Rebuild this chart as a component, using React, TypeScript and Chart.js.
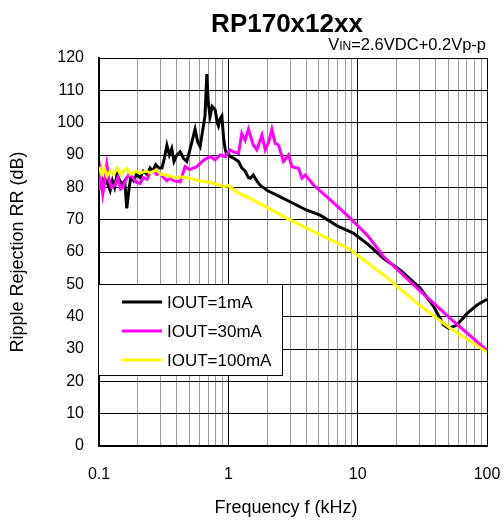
import { useEffect, useRef } from "react";
import { Chart, registerables } from "chart.js";
Chart.register(...registerables);

const FONT = "'Liberation Sans', Arial, sans-serif";

const titleText = "RP170x12xx";
const xAxisTitle = "Frequency f (kHz)";
const yAxisTitle = "Ripple Rejection RR (dB)";
const seriesLabels = ["IOUT=1mA", "IOUT=30mA", "IOUT=100mA"];
const seriesColors = ["#000000", "#ff00ff", "#ffff00"];

const xMajorLabels = [0.1, 1, 10, 100];
const xGridValues = [
  0.1, 0.2, 0.3, 0.4, 0.5, 0.6, 0.7, 0.8, 0.9,
  1, 2, 3, 4, 5, 6, 7, 8, 9,
  10, 20, 30, 40, 50, 60, 70, 80, 90, 100,
];

const freq1mA = [
  0.1, 0.104, 0.108, 0.112, 0.117, 0.122, 0.127, 0.132, 0.138, 0.145, 0.152, 0.158,
  0.164, 0.17, 0.176, 0.185, 0.195, 0.208, 0.22, 0.235, 0.248, 0.26, 0.275, 0.29,
  0.307, 0.32, 0.335, 0.35, 0.365, 0.38, 0.4, 0.424, 0.45, 0.477, 0.5, 0.53, 0.553,
  0.58, 0.605, 0.63, 0.66, 0.682, 0.7, 0.723, 0.75, 0.791, 0.82, 0.838, 0.86, 0.891,
  0.92, 0.944, 0.97, 1.0, 1.03, 1.1, 1.2, 1.27, 1.35, 1.43, 1.48, 1.56, 1.66, 1.76,
  2.0, 2.5, 3.19, 4.0, 5.13, 7.0, 9.3, 12.15, 15.87, 21.37, 30.5, 38.7, 46.2, 50.5,
  58.7, 70.2, 83.8, 100,
];
const rr1mA = [
  82, 84, 80, 83, 81, 79, 82, 80, 84, 82, 81, 82,
  73.5, 79, 83, 82, 84, 83, 85, 84, 86, 85, 87, 86,
  86, 89, 93, 90, 92, 88, 90, 91, 89, 88, 91, 95, 98,
  94, 92.6, 97, 102, 115, 106, 102, 105, 104, 100, 99, 101, 102,
  95, 92, 90, 90.5, 89.5, 89, 88, 86, 85, 83, 82.8, 83.8, 82, 80.7,
  79, 77.1, 75, 73, 71.4, 68, 65.8, 62.2, 58, 54.4, 48.8, 43.1, 37.4, 36.4,
  37.4, 41, 43.6, 45.4,
];

const freq30mA = [
  0.1, 0.103, 0.107, 0.111, 0.115, 0.12, 0.125, 0.133, 0.14, 0.147, 0.153, 0.16,
  0.17, 0.183, 0.195, 0.208, 0.22, 0.235, 0.248, 0.265, 0.28, 0.297, 0.315, 0.334,
  0.354, 0.38, 0.424, 0.463, 0.5, 0.57, 0.605, 0.65, 0.723, 0.79, 0.864, 0.95, 1.0,
  1.03, 1.095, 1.2, 1.27, 1.35, 1.43, 1.56, 1.66, 1.82, 1.93, 2.05, 2.17, 2.3, 2.44,
  2.67, 2.92, 3.1, 3.49, 3.71, 3.93, 4.56, 6.14, 8.27, 10.5, 12.15, 15.87, 28.8, 52,
  100,
];
const rr30mA = [
  79, 84, 78, 82, 87, 82, 80, 80.7, 83, 79.5, 80, 82,
  84, 83, 81.5, 81.2, 83, 82.5, 84.4, 85, 84, 84.4, 83, 82,
  82.8, 82, 81.7, 86.4, 85.5, 86.4, 87.4, 88.5, 89.5, 88.5, 90, 89.5, 91,
  91.6, 91, 90.5, 96.7, 94.6, 98, 93.1, 91.6, 96.2, 91.6, 94, 98, 93.6, 93.1,
  88, 90, 86.4, 85.9, 82.8, 83.8, 80.7, 76.1, 71.4, 67.3, 64.7, 58.6, 48.8, 39.5,
  29.5,
];

const freq100mA = [
  0.1, 0.105, 0.11, 0.115, 0.122, 0.13, 0.138, 0.147, 0.155, 0.164, 0.175, 0.19,
  0.208, 0.23, 0.25, 0.28, 0.3, 0.334, 0.38, 0.424, 0.506, 0.6, 0.682, 0.8, 0.916,
  1.0, 1.2, 1.56, 2.84, 5.13, 8.5, 15.87, 28.8, 52, 100,
];
const rr100mA = [
  86.4, 84, 86, 83.5, 85, 84, 86, 84, 85, 85.9, 84, 85,
  84.4, 85, 84.5, 85.4, 84, 83.8, 83, 83.3, 82.8, 82, 81.7, 81, 80.2,
  80.5, 78.2, 76.1, 70.4, 65.3, 61.1, 52.9, 44.1, 36.4, 29,
];

const toPoints = (xs: number[], ys: number[]) => xs.map((x, i) => ({ x, y: ys[i] }));

const decorPlugin = {
  id: "decor",
  afterDatasetsDraw(chart: any) {
    const ctx = chart.ctx as CanvasRenderingContext2D;
    ctx.save();
    const bx = 98, by = 284, bw = 184, bh = 91;
    ctx.fillStyle = "#ffffff";
    ctx.fillRect(bx, by, bw, bh);
    ctx.strokeStyle = "#000";
    ctx.lineWidth = 1;
    ctx.strokeRect(bx + 0.5, by + 0.5, bw, bh);
    ctx.font = `17px ${FONT}`;
    ctx.textBaseline = "middle";
    ctx.textAlign = "left";
    chart.data.datasets.forEach((ds: any, i: number) => {
      const y = 302 + i * 29;
      ctx.strokeStyle = ds.borderColor;
      ctx.lineWidth = 3;
      ctx.beginPath();
      ctx.moveTo(122, y);
      ctx.lineTo(162, y);
      ctx.stroke();
      ctx.fillStyle = "#000";
      ctx.fillText(ds.label, 167, y + 1);
    });
    ctx.restore();
  },
  afterDraw(chart: any) {
    const ctx = chart.ctx as CanvasRenderingContext2D;
    ctx.save();
    ctx.fillStyle = "#000";
    ctx.textBaseline = "alphabetic";
    ctx.textAlign = "center";
    ctx.font = `bold 26px ${FONT}`;
    ctx.fillText(titleText, 287, 32);
    ctx.font = `18px ${FONT}`;
    ctx.textBaseline = "middle";
    ctx.fillText(xAxisTitle, 286, 508);
    ctx.textBaseline = "alphabetic";
    const big = `16.5px ${FONT}`;
    const small = `12px ${FONT}`;
    const parts: [string, string][] = [["V", big], ["IN", small], ["=2.6VDC+0.2Vp-p", big]];
    let total = 0;
    parts.forEach(([t, f]) => { ctx.font = f; total += ctx.measureText(t).width; });
    let x = 486 - total;
    ctx.textAlign = "left";
    parts.forEach(([t, f]) => {
      ctx.font = f;
      ctx.fillText(t, x, 50);
      x += ctx.measureText(t).width;
    });
    ctx.restore();
  },
};

export default function App() {
  const ref = useRef<HTMLCanvasElement>(null);
  useEffect(() => {
    document.body.style.margin = "0";
    const canvas = ref.current!;
    const chart = new Chart(canvas, {
      type: "line",
      data: {
        datasets: [
          { label: seriesLabels[0], data: toPoints(freq1mA, rr1mA), borderColor: seriesColors[0], borderWidth: 3, pointRadius: 0, tension: 0, order: 2 },
          { label: seriesLabels[1], data: toPoints(freq30mA, rr30mA), borderColor: seriesColors[1], borderWidth: 3, pointRadius: 0, tension: 0, order: 1 },
          { label: seriesLabels[2], data: toPoints(freq100mA, rr100mA), borderColor: seriesColors[2], borderWidth: 3, pointRadius: 0, tension: 0, order: 0 },
        ],
      },
      options: {
        responsive: false,
        animation: false,
        layout: { padding: { top: 58, right: 17, left: 0, bottom: 0 } },
        plugins: { legend: { display: false }, tooltip: { enabled: false }, title: { display: false } },
        scales: {
          x: {
            type: "logarithmic",
            min: 0.1,
            max: 100,
            afterBuildTicks: (scale: any) => {
              scale.ticks = xGridValues.map((v) => ({ value: v }));
            },
            afterFit: (scale: any) => {
              scale.height = 75;
              scale.paddingLeft = 0;
              scale.paddingRight = 0;
            },
            ticks: {
              autoSkip: false,
              maxRotation: 0,
              padding: 19,
              color: "#000",
              font: { family: FONT, size: 16 },
              callback: (v: any) => (xMajorLabels.includes(Number(v)) ? String(Number(v)) : ""),
            },
            grid: {
              drawTicks: false,
              lineWidth: 1,
              color: (c: any) => (xMajorLabels.includes(c.tick?.value) ? "#000" : "#9a9a9a"),
            },
            border: { display: true, color: "#000", width: 2 },
            title: { display: false },
          },
          y: {
            min: 0,
            max: 120,
            afterFit: (scale: any) => {
              scale.width = 99;
              scale.paddingTop = 0;
              scale.paddingBottom = 0;
            },
            ticks: { stepSize: 10, padding: 15, color: "#000", font: { family: FONT, size: 16 } },
            grid: { drawTicks: false, color: "#000", lineWidth: 1 },
            border: { display: true, color: "#000", width: 2 },
            title: { display: true, text: yAxisTitle, color: "#000", font: { family: FONT, size: 18 }, padding: { top: 7, bottom: 0 } },
          },
        },
      },
      plugins: [decorPlugin],
    });
    return () => chart.destroy();
  }, []);
  return <canvas ref={ref} width={504} height={521} style={{ display: "block" }} />;
}
